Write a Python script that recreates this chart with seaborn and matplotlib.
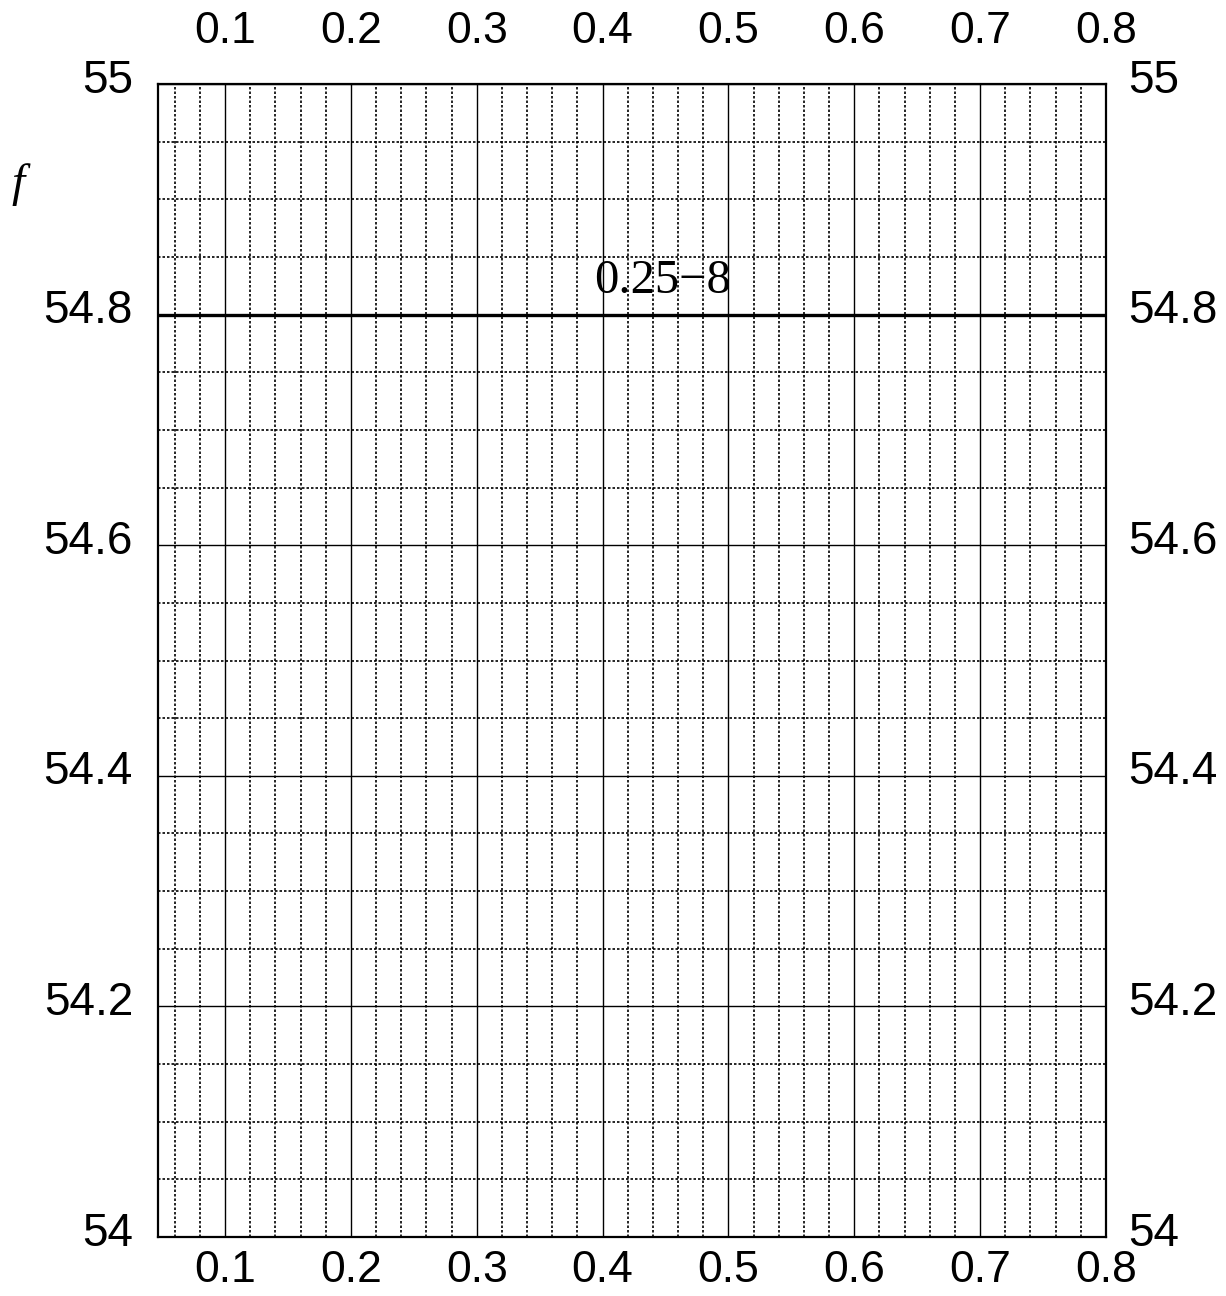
import matplotlib
matplotlib.use('Agg')
import matplotlib.pyplot as plt
import matplotlib.transforms as mtransforms
from matplotlib.ticker import MultipleLocator
import pandas as pd
import seaborn as sns

# data
x_line = [0.0467, 0.8]
f_line = [54.8, 54.8]
curve_label = '0.25\u22128'
x_ticks = [0.1, 0.2, 0.3, 0.4, 0.5, 0.6, 0.7, 0.8]
y_ticks = [54.0, 54.2, 54.4, 54.6, 54.8, 55.0]
y_ticklabels = ['54', '54.2', '54.4', '54.6', '54.8', '55']

sns.set_style('white')
plt.rcParams['font.family'] = ['Liberation Sans', 'DejaVu Sans']

fig = plt.figure(figsize=(12.26, 12.96), dpi=100)
ax = fig.add_axes([158 / 1226, 1 - 1237 / 1296, (1106 - 158) / 1226, (1237 - 84) / 1296])

df = pd.DataFrame({'x': x_line, 'f': f_line})
sns.lineplot(data=df, x='x', y='f', ax=ax, color='black', linewidth=2.4, zorder=5)

ax.set_xlim(0.0467, 0.8)
ax.set_ylim(54, 55)
ax.set_xticks(x_ticks)
ax.set_xticklabels([f'{v:g}' for v in x_ticks])
ax.set_yticks(y_ticks)
ax.set_yticklabels(y_ticklabels)
ax.xaxis.set_minor_locator(MultipleLocator(0.02))
ax.yaxis.set_minor_locator(MultipleLocator(0.05))

ax.grid(which='major', color='black', linewidth=1.0, linestyle='-')
ax.grid(which='minor', color='black', linewidth=1.2, linestyle=(0, (1.5, 1.2)))
ax.set_axisbelow(True)

for s in ax.spines.values():
    s.set_color('black')
    s.set_linewidth(1.6)

ax.tick_params(axis='x', which='both', top=True, bottom=True, labeltop=True,
               labelbottom=True, length=0, labelsize=32, labelcolor='black')
ax.tick_params(axis='x', which='major', pad=9)
ax.tick_params(axis='y', which='both', left=True, right=True, labelleft=True,
               labelright=True, length=0, labelsize=33, pad=18, labelcolor='black')

# top labels need more room
for tick in ax.xaxis.get_major_ticks():
    tick.label2.set_transform(tick.label2.get_transform() +
                              mtransforms.ScaledTranslation(0, 14 / 72, fig.dpi_scale_trans))
# y labels sit a little above their lines
off = mtransforms.ScaledTranslation(0, 6 / 72, fig.dpi_scale_trans)
for tick in ax.yaxis.get_major_ticks():
    tick.label1.set_transform(tick.label1.get_transform() + off)
    tick.label2.set_transform(tick.label2.get_transform() + off +
                              mtransforms.ScaledTranslation(-2 / 72, 0, fig.dpi_scale_trans))

ax.set_xlabel('')
ax.set_ylabel('')

ax.text(0.448, 54.829, curve_label, ha='center', va='center', fontsize=35,
        family=['Liberation Serif', 'DejaVu Serif'], color='black', zorder=6)
fig.text(18 / 1226, 1 - 185 / 1296, 'f', ha='center', va='center', fontsize=34,
         style='italic', family=['Liberation Serif', 'DejaVu Serif'], color='black')

fig.savefig('out.png', dpi=100)
